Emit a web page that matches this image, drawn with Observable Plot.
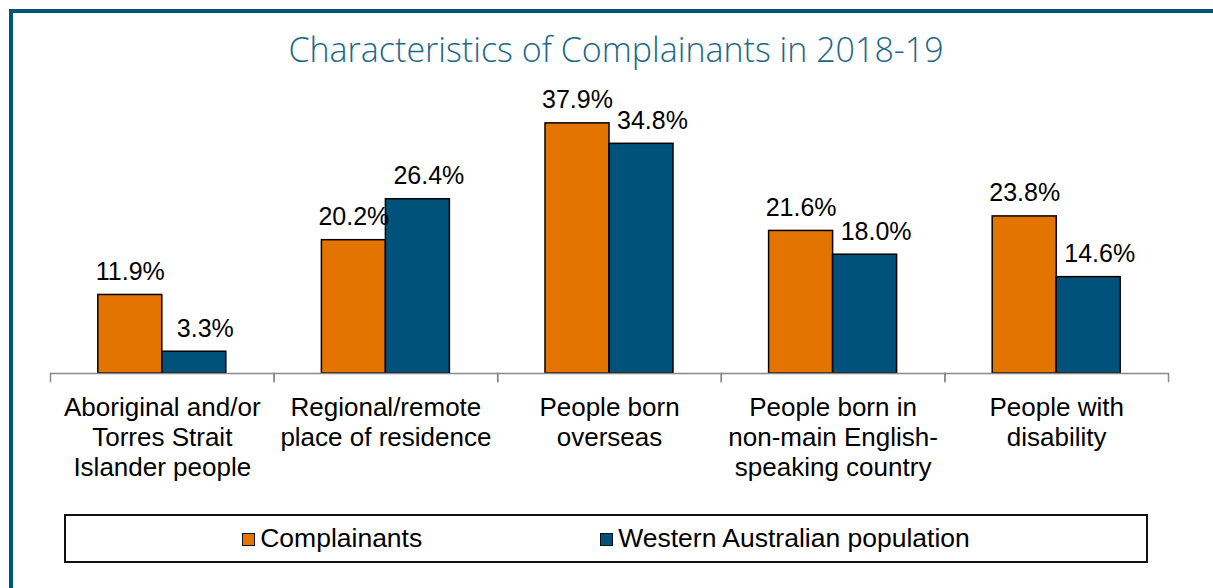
<!DOCTYPE html>
<html>
<head>
<meta charset="utf-8">
<script src="https://cdn.jsdelivr.net/npm/d3@7"></script>
<script src="https://cdn.jsdelivr.net/npm/@observablehq/plot@0.6"></script>
<style>
  html, body { margin: 0; padding: 0; background: #fff; }
  body { width: 1213px; height: 588px; overflow: hidden; position: relative; font-family: "Liberation Sans", Arial, sans-serif; }
  #frame { position: absolute; left: 9px; top: 9px; width: 1240px; height: 620px; border-left: 4px solid #00567A; border-top: 4px solid #00567A; z-index: 3; pointer-events: none; }
  #title { position: absolute; left: 0; top: 26px; width: 1232px; text-align: center; font-family: "Open Sans", sans-serif; font-weight: 300; font-size: 34px; color: #1D6889; white-space: nowrap; }
  #chart { position: absolute; left: 0; top: 90px; }
  #legend { position: absolute; left: 64px; top: 514px; width: 1084px; height: 49px; box-sizing: border-box; border: 2px solid #111; display: flex; align-items: center; justify-content: center; gap: 178px; padding-left: 0px; }
  .item { display: flex; align-items: center; font-size: 26.5px; color: #000; }
  .sw { width: 11px; height: 11px; border: 1.5px solid #111; margin-right: 5px; margin-top: 2px; }
</style>
</head>
<body>
<div id="frame"></div>
<div id="title">Characteristics of Complainants in 2018-19</div>
<div id="chart"></div>
<div id="legend"></div>
<script>
const categories = [
  "Aboriginal and/or\nTorres Strait\nIslander people",
  "Regional/remote\nplace of residence",
  "People born\noverseas",
  "People born in\nnon-main English-\nspeaking country",
  "People with\ndisability"
];
const series = ["Complainants", "Western Australian population"];
const complainants = [11.9, 20.2, 37.9, 21.6, 23.8];
const waPopulation = [3.3, 26.4, 34.8, 18.0, 14.6];
const colors = ["#E37400", "#01527A"];

const data = categories.flatMap((c, i) => [
  {category: c, series: series[0], value: complainants[i]},
  {category: c, series: series[1], value: waPopulation[i]}
]);
const fmt = d => d.value.toFixed(1) + "%";

const chart = Plot.plot({
  width: 1213,
  height: 410,
  marginLeft: 50,
  marginRight: 45,
  marginTop: 19,
  marginBottom: 127,
  style: {background: "transparent", fontFamily: "'Liberation Sans', Arial, sans-serif", color: "#000", overflow: "visible"},
  fx: {domain: categories, padding: 0, label: null, round: false},
  x: {domain: series, paddingInner: 0, paddingOuter: 0.747, axis: null, round: false},
  y: {domain: [0, 40], axis: null},
  color: {domain: series, range: colors},
  marks: [
    Plot.barY(data, {fx: "category", x: "series", y: "value", fill: "series", stroke: "#000", strokeWidth: 1.5}),
    Plot.ruleY([0], {stroke: "#898989", strokeWidth: 1.5}),
    Plot.frame({anchor: "left", stroke: "#898989", strokeWidth: 1.5, insetTop: 264, insetBottom: -8}),
    Plot.frame({anchor: "right", stroke: "#898989", strokeWidth: 1.5, insetTop: 264, insetBottom: -8}),
    Plot.text(data.filter(d => d.series === series[0]), {fx: "category", x: "series", y: "value", text: fmt, fontSize: 25, lineAnchor: "bottom", dy: -15, fill: "#000"}),
    Plot.text(data.filter(d => d.series === series[1]), {fx: "category", x: "series", y: "value", text: fmt, fontSize: 25, lineAnchor: "bottom", dy: -15, dx: 11, fill: "#000"}),
    Plot.axisFx({anchor: "bottom", tickSize: 0, tickPadding: 21, fontSize: 26, lineHeight: 1.154, label: null, fill: "#000"})
  ]
});
document.getElementById("chart").appendChild(chart);

const legend = document.getElementById("legend");
series.forEach((s, i) => {
  const item = document.createElement("div");
  item.className = "item";
  const sw = document.createElement("span");
  sw.className = "sw";
  sw.style.background = colors[i];
  const label = document.createElement("span");
  label.textContent = s;
  item.appendChild(sw);
  item.appendChild(label);
  legend.appendChild(item);
});
</script>
</body>
</html>
